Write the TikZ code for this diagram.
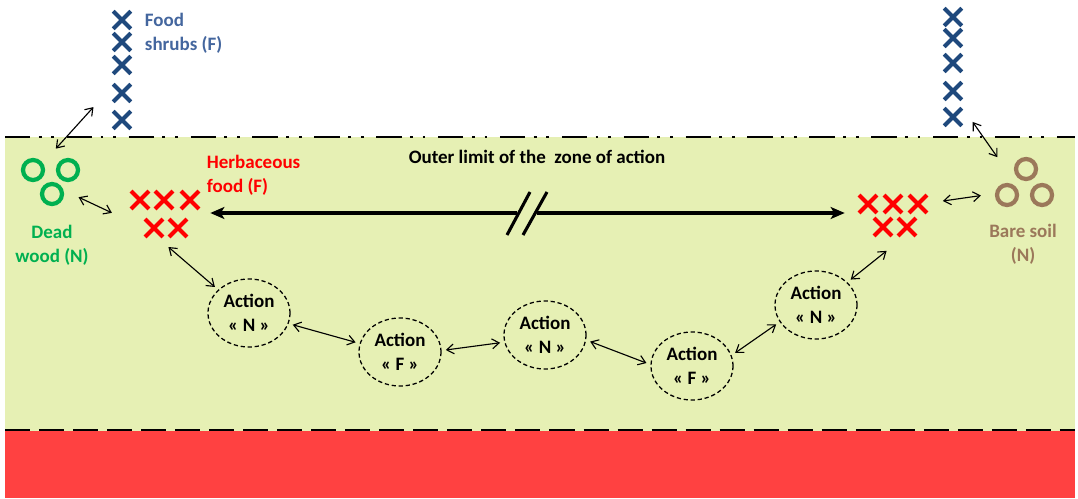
\documentclass[tikz,border=0pt]{standalone}
\usepackage{fontspec}
\setmainfont{Carlito}
\usepackage{tikz}
\usetikzlibrary{shapes.geometric}
\usetikzlibrary{shapes.misc}
\usetikzlibrary{arrows.meta}
\usetikzlibrary{calc}
\definecolor{zone_green}{RGB}{230,240,180}
\definecolor{soil_red}{RGB}{255,65,65}
\definecolor{shrub_blue}{RGB}{31,73,125}
\definecolor{shrub_text}{RGB}{68,102,158}
\definecolor{herb_red}{RGB}{255,0,0}
\definecolor{wood_green}{RGB}{0,176,80}
\definecolor{soil_brown}{RGB}{155,120,90}

\begin{document}
\begin{tikzpicture}[x=0.025cm, y=-0.025cm,
    font=\fontsize{13.5}{17}\selectfont\bfseries,
    shrub/.style={cross out, draw=shrub_blue, line width=2.8pt, minimum size=0.34cm, inner sep=0pt},
    herb/.style={cross out, draw=herb_red, line width=3pt, minimum size=0.34cm, inner sep=0pt},
    ring/.style={circle, draw, line width=3pt, minimum size=0.5cm, inner sep=0pt},
    zone/.style={ellipse, inner sep=0pt},
    action/.style={ellipse, draw, line width=0.9pt, dash pattern=on 3pt off 2pt, minimum width=2.05cm, minimum height=1.7cm, inner sep=0pt, align=center},
    link/.style={{Straight Barb[length=5pt,width=7pt]}-{Straight Barb[length=5pt,width=7pt]}, line width=0.8pt, shorten <=3pt, shorten >=3pt},
    big/.style={line width=2.2pt}]
    \useasboundingbox (0,0) rectangle (1078,499);
    % Zone of action and soil
    \fill[zone_green] (5,137) rectangle (1075,431);
    \fill[soil_red] (5,431) rectangle (1075,498);
    \draw[line width=2.1pt, dash pattern=on 18pt off 6pt on 2pt off 7pt on 2pt off 9pt] (5,137) -- (1075,137);
    \draw[line width=2.1pt, dash pattern=on 17.8pt off 6.4pt] (5,430) -- (1075,430);
    \node (outer) at (537,157) {Outer limit of the\ \ zone of action};

    % Food shrubs
    \foreach \y [count=\i] in {20,42,65,93,120}
        \node[shrub] (shL\i) at (122,\y) {};
    \foreach \y [count=\i] in {17,38,63,91,117}
        \node[shrub] (shR\i) at (953,\y) {};
    \node[text=shrub_text, anchor=west, align=left] (shlab) at (140,33) {Food\\shrubs (F)};
    \node[zone, minimum size=1.5cm] (shLz) at (122,120) {};
    \node[zone, minimum size=0.85cm] (shRz) at (953,117) {};

    % Dead wood
    \node[ring, draw=wood_green] (dw1) at (33,170) {};
    \node[ring, draw=wood_green] (dw2) at (68,170) {};
    \node[ring, draw=wood_green] (dw3) at (52,194) {};
    \node[text=wood_green, align=center] (dwlab) at (52,245) {Dead\\wood (N)};
    \node[zone, minimum size=1.4cm] (dw) at (51,180) {};

    % Bare soil
    \node[ring, draw=soil_brown] (bs1) at (1026,169) {};
    \node[ring, draw=soil_brown] (bs2) at (1007,195) {};
    \node[ring, draw=soil_brown] (bs3) at (1042,195) {};
    \node[text=soil_brown, align=center] (bslab) at (1023,244) {Bare soil\\(N)};
    \node[zone, minimum width=2.1cm, minimum height=1.5cm] (bs) at (1025,185) {};

    % Herbaceous food
    \foreach \x/\y [count=\i] in {140/200,164/200,190/200,154/228,178/228}
        \node[herb] (hl\i) at (\x,\y) {};
    \foreach \x/\y [count=\i] in {868/204,893/204,918/204,883/227,907/227}
        \node[herb] (hr\i) at (\x,\y) {};
    \node[text=herb_red, anchor=west, align=left] (hlab) at (202,175) {Herbaceous\\food (F)};
    \node[zone, minimum width=2.35cm, minimum height=1.55cm] (hl) at (163,213) {};
    \node[zone, minimum width=2.4cm, minimum height=1.75cm] (hr) at (893,213) {};

    % Actions
    \node[action] (a1) at (249,313) {Action\\« N »};
    \node[action] (a2) at (400,352) {Action\\« F »};
    \node[action] (a3) at (545,335) {Action\\« N »};
    \node[action] (a4) at (692,366) {Action\\« F »};
    \node[action] (a5) at (816,305) {Action\\« N »};

    % Long arrow with break
    \coordinate (brkL) at (517,213);
    \coordinate (brkR) at (537,213);
    \draw[big, -{Stealth[length=10pt,width=8.5pt,inset=2.5pt]}] (brkL) -- (hl.east);
    \draw[big, -{Stealth[length=10pt,width=8.5pt,inset=2.5pt]}] (brkR) -- (hr.west);
    \draw[big] ($(brkL)+(-10,22)$) -- ($(brkL)+(13,-21)$);
    \draw[big] ($(brkR)+(-14,22)$) -- ($(brkR)+(10,-21)$);

    % Links
    \draw[link] (dw.86) -- (shLz.148);
    \draw[link] (dw.-33) -- (hl.182);
    \draw[link] (hl.-86) -- (a1.143);
    \draw[link] (a1.-15) -- (a2.168);
    \draw[link] (a2.2) -- (a3.190);
    \draw[link] (a3.-7) -- (a4.178);
    \draw[link] (a4.15) -- (a5.205);
    \draw[link] (a5.36) -- (hr.-95);
    \draw[link] (hr.14) -- (bs.194);
    \draw[link] (bs.136) -- (shRz.-5);
\end{tikzpicture}
\end{document}
